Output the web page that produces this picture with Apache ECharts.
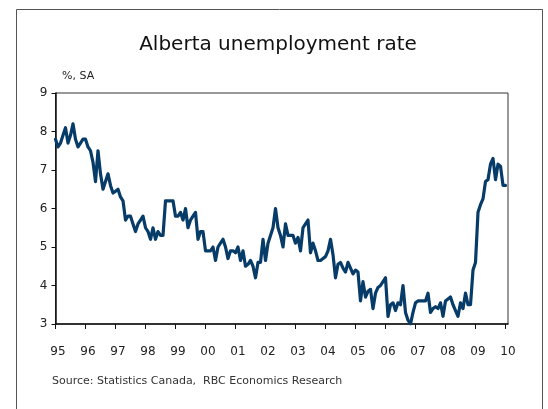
<!DOCTYPE html>
<html>
<head>
<meta charset="utf-8">
<script src="https://cdn.jsdelivr.net/npm/echarts@6/dist/echarts.min.js"></script>
<style>
  html, body { margin: 0; padding: 0; background: #fff; }
  #chart { width: 548px; height: 409px; }
</style>
</head>
<body>
<div id="chart"></div>
<script>
// Alberta unemployment rate, %, seasonally adjusted, monthly Jan 1995 – Jan 2010
const yearLabels = ['95','96','97','98','99','00','01','02','03','04','05','06','07','08','09','10'];

const rate1995 = [7.8, 7.6, 7.7, 7.9, 8.1, 7.7, 7.9, 8.2, 7.8, 7.6, 7.7, 7.8];
const rate1996 = [7.8, 7.6, 7.5, 7.2, 6.7, 7.5, 6.9, 6.5, 6.7, 6.9, 6.6, 6.4];
const rate1997 = [6.45, 6.5, 6.3, 6.2, 5.7, 5.8, 5.8, 5.6, 5.4, 5.6, 5.7, 5.8];
const rate1998 = [5.5, 5.4, 5.2, 5.5, 5.2, 5.4, 5.3, 5.3, 6.2, 6.2, 6.2, 6.2];
const rate1999 = [5.8, 5.8, 5.9, 5.7, 6.0, 5.5, 5.7, 5.8, 5.9, 5.2, 5.4, 5.4];
const rate2000 = [4.9, 4.9, 4.9, 5.0, 4.65, 5.0, 5.1, 5.2, 5.0, 4.7, 4.9, 4.9];
const rate2001 = [4.85, 5.0, 4.65, 4.9, 4.5, 4.55, 4.65, 4.5, 4.2, 4.6, 4.6, 5.2];
const rate2002 = [4.65, 5.1, 5.3, 5.5, 6.0, 5.5, 5.3, 5.0, 5.6, 5.3, 5.3, 5.3];
const rate2003 = [5.1, 5.25, 4.9, 5.5, 5.6, 5.7, 4.85, 5.1, 4.9, 4.65, 4.65, 4.7];
const rate2004 = [4.75, 4.9, 5.2, 4.8, 4.2, 4.55, 4.6, 4.45, 4.35, 4.6, 4.45, 4.3];
const rate2005 = [4.4, 4.35, 3.6, 4.1, 3.7, 3.85, 3.9, 3.4, 3.8, 3.95, 4.0, 4.1];
const rate2006 = [4.2, 3.2, 3.5, 3.55, 3.35, 3.55, 3.5, 4.0, 3.3, 3.1, 3.0, 3.3];
const rate2007 = [3.55, 3.6, 3.6, 3.6, 3.6, 3.8, 3.3, 3.4, 3.45, 3.4, 3.55, 3.2];
const rate2008 = [3.6, 3.65, 3.7, 3.5, 3.35, 3.2, 3.55, 3.4, 3.8, 3.5, 3.5, 4.4];
const rate2009 = [4.6, 5.9, 6.1, 6.25, 6.7, 6.75, 7.15, 7.3, 6.75, 7.15, 7.1, 6.6];
const rate2010 = [6.6];

const monthly = [].concat(rate1995, rate1996, rate1997, rate1998, rate1999, rate2000,
  rate2001, rate2002, rate2003, rate2004, rate2005, rate2006, rate2007, rate2008,
  rate2009, rate2010);

// month index from Jan 1995 paired with the rate
const seriesData = monthly.map((v, i) => [i, v]);
const yearTicks = yearLabels.map((_, i) => i * 12);

const FONT = '"DejaVu Sans", Verdana, sans-serif';
const chart = echarts.init(document.getElementById('chart'), null, { renderer: 'canvas' });

chart.setOption({
  animation: false,
  backgroundColor: '#ffffff',
  grid: {
    left: 55.5, right: 40, top: 93, bottom: 85,
    show: true, borderColor: '#333', borderWidth: 1, backgroundColor: 'transparent'
  },
  xAxis: {
    type: 'value',
    min: 0, max: 181,
    splitLine: { show: false },
    axisLine: { lineStyle: { color: '#111', width: 1.5 } },
    axisTick: { show: true, length: 5, inside: false, customValues: yearTicks,
      lineStyle: { color: '#111', width: 1 } },
    axisLabel: {
      customValues: yearTicks,
      formatter: v => yearLabels[Math.round(v / 12)],
      color: '#222', fontFamily: FONT, fontSize: 12, margin: 22,
      padding: [0, 0, 0, 5]
    }
  },
  yAxis: {
    type: 'value',
    min: 3, max: 9, interval: 1,
    splitLine: { show: false },
    axisLine: { show: true, lineStyle: { color: '#111', width: 1.5 } },
    axisTick: { show: true, length: 4, inside: false, lineStyle: { color: '#111', width: 1 } },
    axisLabel: { color: '#222', fontFamily: FONT, fontSize: 12, margin: 8 }
  },
  series: [{
    type: 'line',
    data: seriesData,
    showSymbol: false,
    symbol: 'none',
    lineStyle: { color: '#073b68', width: 3.2, join: 'round', cap: 'round' },
    z: 3
  }],
  graphic: [
    {
      type: 'rect',
      shape: { x: 16.5, y: 9.5, width: 526, height: 410 },
      style: { fill: 'none', stroke: '#555', lineWidth: 1 },
      silent: true
    },
    {
      type: 'text', x: 278, y: 45,
      style: { text: 'Alberta unemployment rate', font: '20px ' + FONT, fill: '#111',
        align: 'center', verticalAlign: 'middle' }
    },
    {
      type: 'text', x: 62, y: 76,
      style: { text: '%, SA', font: '11px ' + FONT, fill: '#222',
        align: 'left', verticalAlign: 'middle' }
    },
    {
      type: 'text', x: 52, y: 381,
      style: { text: 'Source: Statistics Canada,  RBC Economics Research', font: '11px ' + FONT,
        fill: '#333', align: 'left', verticalAlign: 'middle' }
    }
  ]
});
</script>
</body>
</html>
